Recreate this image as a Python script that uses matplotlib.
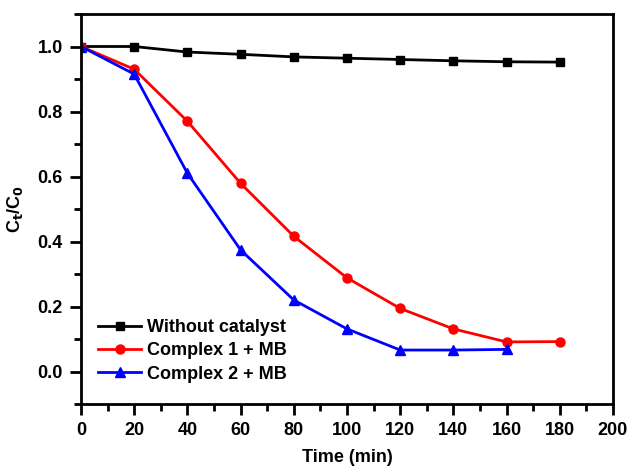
import matplotlib
matplotlib.use("Agg")
import matplotlib.pyplot as plt
from matplotlib.ticker import MultipleLocator

plt.rcParams['font.family'] = ['Liberation Sans', 'DejaVu Sans']
plt.rcParams['font.weight'] = 'bold'

time = [0, 20, 40, 60, 80, 100, 120, 140, 160, 180]
without_cat = [1.0, 1.0, 0.983, 0.976, 0.968, 0.964, 0.960, 0.956, 0.953, 0.952]
complex1 = [1.0, 0.93, 0.770, 0.579, 0.416, 0.288, 0.194, 0.131, 0.091, 0.092]
time2 = [0, 20, 40, 60, 80, 100, 120, 140, 160]
complex2 = [1.0, 0.915, 0.610, 0.374, 0.220, 0.131, 0.066, 0.066, 0.068]

fig = plt.figure(figsize=(6.3, 4.69), dpi=100)
ax = fig.add_axes([81/630, 65/469, 532/630, 390/469])

ax.plot(time, without_cat, color='black', marker='s', markersize=6, lw=2, label='Without catalyst')
ax.plot(time, complex1, color='red', marker='o', markersize=6.5, lw=2, label='Complex 1 + MB')
ax.plot(time2, complex2, color='blue', marker='^', markersize=7, lw=2, label='Complex 2 + MB')

ax.set_xlim(0, 200)
ax.set_ylim(-0.1, 1.1)
ax.xaxis.set_major_locator(MultipleLocator(20))
ax.xaxis.set_minor_locator(MultipleLocator(10))
ax.set_yticks([0.0, 0.2, 0.4, 0.6, 0.8, 1.0])
ax.yaxis.set_minor_locator(MultipleLocator(0.1))
ax.tick_params(which='major', direction='out', length=8, width=2, labelsize=13, pad=5)
ax.tick_params(which='minor', direction='out', length=5, width=2)
for s in ax.spines.values():
    s.set_linewidth(2)

ax.set_xlabel('Time (min)', fontsize=13, fontweight='bold', labelpad=7)
ax.set_ylabel('C$_\\mathbf{t}$/C$_\\mathbf{0}$', fontsize=13, fontweight='bold', labelpad=9)

ax.legend(loc='lower left', bbox_to_anchor=(0.008, 0.022), frameon=False, fontsize=13,
          handlelength=2.4, handletextpad=0.3, labelspacing=0.35, borderpad=0.2)

fig.savefig('out.png', dpi=100)
